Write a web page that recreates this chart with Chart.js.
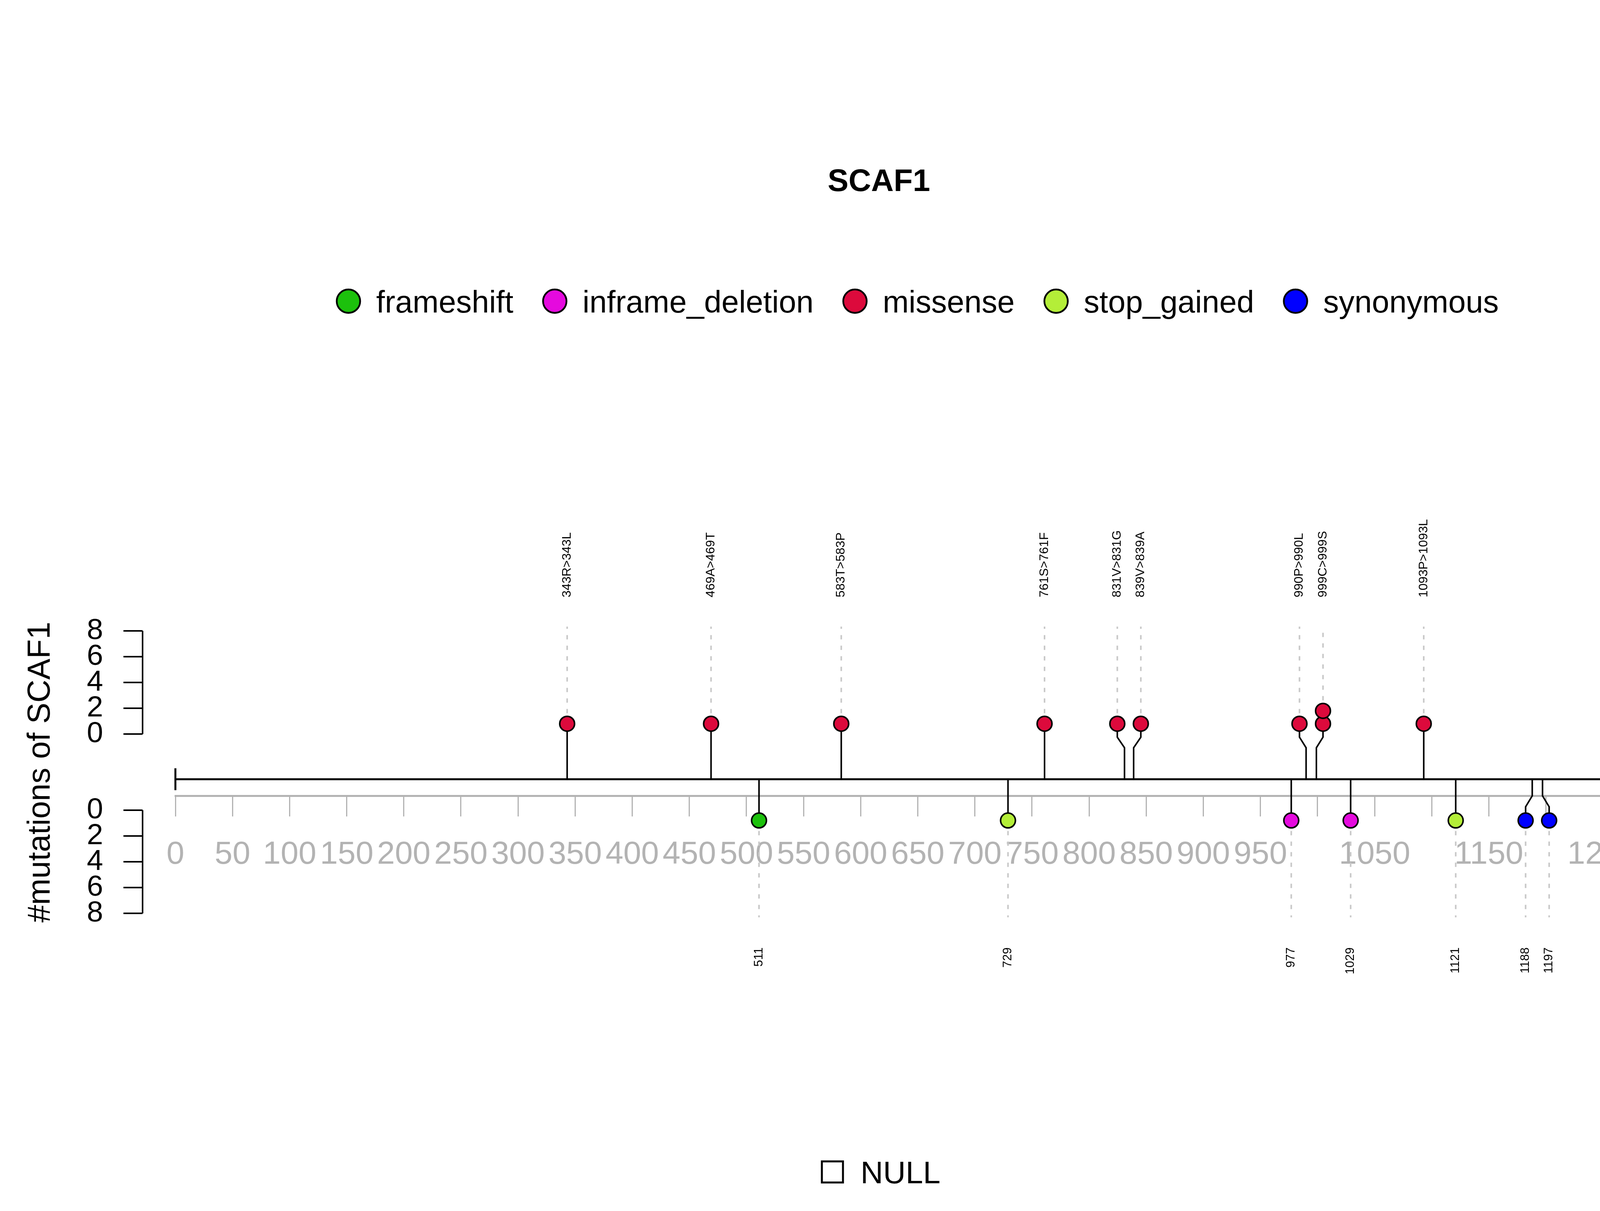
<!DOCTYPE html>
<html>
<head>
<meta charset="utf-8">
<script src="https://cdn.jsdelivr.net/npm/chart.js@4.4.0/dist/chart.umd.min.js"></script>
<style>
  html, body { margin: 0; padding: 0; background: #ffffff; overflow: hidden; }
  #lolli { display: block; width: 100vw; height: 100vh; }
</style>
</head>
<body>
<canvas id="lolli" width="4500" height="3100"></canvas>
<script>
// gene / protein
var geneName = 'SCAF1';
var proteinLength = 1300;

// ruler: a tick every 50 aa, blank labels are the ones dropped for overlap
var rulerStep = 50;
var rulerLabels = ['0', '50', '100', '150', '200', '250', '300', '350', '400', '450',
  '500', '550', '600', '650', '700', '750', '800', '850', '900', '950',
  '', '1050', '', '1150', '', '1250', ''];

// mutations above the backbone
var upperPos = [343, 469, 583, 761, 831, 839, 990, 999, 1093, 1273];
var upperCount = [1, 1, 1, 1, 1, 1, 1, 2, 1, 1];
var upperType = ['missense', 'missense', 'missense', 'missense', 'missense',
  'missense', 'missense', 'missense', 'missense', 'missense'];
var upperLabel = ['343R>343L', '469A>469T', '583T>583P', '761S>761F', '831V>831G',
  '839V>839A', '990P>990L', '999C>999S', '1093P>1093L', '1273R>1273C'];

// mutations below the backbone
var lowerPos = [511, 729, 977, 1029, 1121, 1188, 1197];
var lowerCount = [1, 1, 1, 1, 1, 1, 1];
var lowerType = ['frameshift', 'stop_gained', 'inframe_deletion', 'inframe_deletion',
  'stop_gained', 'synonymous', 'synonymous'];
var lowerLabel = ['511', '729', '977', '1029', '1121', '1188', '1197'];

// variant classes
var typeNames = ['frameshift', 'inframe_deletion', 'missense', 'stop_gained', 'synonymous'];
var typeColors = ['#1CC10C', '#E50ADE', '#DC0A3C', '#B4EE38', '#0000FF'];

// count axes
var countTicks = [0, 2, 4, 6, 8];
var featureLegend = ['NULL'];

// vertical layout, in track units (1 unit = 1 stacked marker)
var UP0 = 3.5;       // zero of the upper count axis
var LOW0 = -2.4;     // zero of the lower count axis
var COUNT_MAX = 8;
var MIN_GAP = 20.6;  // markers closer than this (aa) get pushed apart
var FONT = '"Liberation Sans", Arial, Helvetica, sans-serif';

// push neighbouring markers apart, keep clusters centred
function spread(pos) {
  var out = pos.slice();
  var i = 0;
  while (i < pos.length) {
    var j = i;
    while (j + 1 < pos.length && pos[j + 1] - pos[j] < MIN_GAP) j++;
    if (j > i) {
      var mid = 0;
      for (var k = i; k <= j; k++) mid += pos[k];
      mid /= (j - i + 1);
      for (var k2 = i; k2 <= j; k2++) out[k2] = mid + (k2 - i - (j - i) / 2) * MIN_GAP;
    }
    i = j + 1;
  }
  return out;
}

var upperX = spread(upperPos);
var lowerX = spread(lowerPos);

function lineSet(points, color, width, order, dash) {
  return {
    type: 'scatter',
    data: points,
    showLine: true,
    borderColor: color,
    borderWidth: width,
    borderDash: dash || [],
    pointRadius: 0,
    tension: 0,
    clip: false,
    order: order
  };
}

function buildDatasets() {
  var sets = [];

  // markers, one dataset per class
  typeNames.forEach(function (t, ti) {
    var pts = [];
    upperPos.forEach(function (p, i) {
      if (upperType[i] !== t) return;
      for (var k = 1; k <= upperCount[i]; k++) pts.push({ x: upperX[i], y: UP0 + k - 0.2 });
    });
    lowerPos.forEach(function (p, i) {
      if (lowerType[i] !== t) return;
      for (var k = 1; k <= lowerCount[i]; k++) pts.push({ x: lowerX[i], y: LOW0 - k + 0.2 });
    });
    sets.push({
      label: t,
      type: 'scatter',
      data: pts,
      pointRadius: 19,
      pointBackgroundColor: typeColors[ti],
      pointBorderColor: '#000000',
      pointBorderWidth: 4,
      clip: false,
      order: 0
    });
  });

  // stems and dashed guides
  upperPos.forEach(function (p, i) {
    sets.push(lineSet([
      { x: p, y: 0 }, { x: p, y: UP0 - 1.06 },
      { x: upperX[i], y: UP0 - 0.24 }, { x: upperX[i], y: UP0 + 0.8 }
    ], '#000000', 4, 1));
    sets.push(lineSet([
      { x: upperX[i], y: UP0 + upperCount[i] - 0.2 }, { x: upperX[i], y: UP0 + COUNT_MAX + 0.33 }
    ], '#C8C8C8', 4, 2, [11, 16]));
  });
  lowerPos.forEach(function (p, i) {
    sets.push(lineSet([
      { x: p, y: 0 }, { x: p, y: LOW0 + 1.11 },
      { x: lowerX[i], y: LOW0 + 0.26 }, { x: lowerX[i], y: LOW0 - 0.8 }
    ], '#000000', 4, 1));
    sets.push(lineSet([
      { x: lowerX[i], y: LOW0 - lowerCount[i] + 0.2 }, { x: lowerX[i], y: LOW0 - COUNT_MAX - 0.31 }
    ], '#C8C8C8', 4, 2, [11, 16]));
  });

  // backbone and its start cap
  sets.push(lineSet([{ x: 0, y: 0 }, { x: proteinLength, y: 0 }], '#000000', 5, 3));
  sets.push(lineSet([{ x: 0, y: -0.85 }, { x: 0, y: 0.85 }], '#000000', 5, 3));
  return sets;
}

// title, legends, count axes and variant labels
var decorPlugin = {
  id: 'decor',
  beforeDraw: function (chart) {
    var ctx = chart.ctx;
    ctx.save();
    ctx.fillStyle = '#ffffff';
    ctx.fillRect(0, 0, chart.width, chart.height);
    ctx.restore();
  },
  afterDraw: function (chart) {
    var ctx = chart.ctx;
    var xs = chart.scales.x;
    var ys = chart.scales.y;
    ctx.save();
    ctx.fillStyle = '#000000';
    ctx.strokeStyle = '#000000';

    // title
    ctx.font = 'bold 80px ' + FONT;
    ctx.textAlign = 'center';
    ctx.textBaseline = 'alphabetic';
    ctx.fillText(geneName, chart.width / 2, 489);

    // class legend
    ctx.font = '80px ' + FONT;
    ctx.textAlign = 'left';
    var cx = 862;
    typeNames.forEach(function (t, i) {
      ctx.beginPath();
      ctx.arc(cx + 30, 771, 30, 0, Math.PI * 2);
      ctx.fillStyle = typeColors[i];
      ctx.fill();
      ctx.lineWidth = 4.5;
      ctx.stroke();
      ctx.fillStyle = '#000000';
      ctx.fillText(t, cx + 101, 800);
      cx += 101 + ctx.measureText(t).width + 76;
    });

    // feature legend
    ctx.lineWidth = 5;
    ctx.strokeRect(2104, 2973, 54, 54);
    ctx.fillText(featureLegend[0], 2203, 3029);

    // y title
    ctx.save();
    ctx.translate(127, (ys.getPixelForValue(UP0 + COUNT_MAX) + ys.getPixelForValue(LOW0 - COUNT_MAX)) / 2);
    ctx.rotate(-Math.PI / 2);
    ctx.font = '81px ' + FONT;
    ctx.textAlign = 'center';
    ctx.fillText('#mutations of ' + geneName, 0, 0);
    ctx.restore();

    // count axes, upper one counts up, lower one counts down
    var spine = xs.getPixelForValue(0) - 84;
    ctx.lineWidth = 4;
    ctx.font = '75px ' + FONT;
    ctx.textAlign = 'right';
    ctx.textBaseline = 'middle';
    [[UP0, 1], [LOW0, -1]].forEach(function (ax) {
      ctx.beginPath();
      ctx.moveTo(spine, ys.getPixelForValue(ax[0]));
      ctx.lineTo(spine, ys.getPixelForValue(ax[0] + ax[1] * COUNT_MAX));
      ctx.stroke();
      countTicks.forEach(function (v) {
        var py = ys.getPixelForValue(ax[0] + ax[1] * v);
        ctx.beginPath();
        ctx.moveTo(spine, py);
        ctx.lineTo(spine - 49, py);
        ctx.stroke();
        ctx.fillText(String(v), spine - 101, py);
      });
    });

    // variant labels
    ctx.font = '32px ' + FONT;
    upperLabel.forEach(function (lab, i) {
      ctx.save();
      ctx.translate(xs.getPixelForValue(upperX[i]), ys.getPixelForValue(14.1));
      ctx.rotate(-Math.PI / 2);
      ctx.textAlign = 'left';
      ctx.fillText(lab, 0, 0);
      ctx.restore();
    });
    ctx.font = '31px ' + FONT;
    lowerLabel.forEach(function (lab, i) {
      ctx.save();
      ctx.translate(xs.getPixelForValue(lowerX[i]), ys.getPixelForValue(-13.04));
      ctx.rotate(-Math.PI / 2);
      ctx.textAlign = 'right';
      ctx.fillText(lab, 0, 0);
      ctx.restore();
    });
    ctx.restore();
  }
};

var chart = new Chart(document.getElementById('lolli').getContext('2d'), {
  type: 'scatter',
  data: { datasets: buildDatasets() },
  options: {
    responsive: false,
    devicePixelRatio: 1,
    animation: false,
    events: [],
    layout: { padding: { left: 449, right: 250, top: 1615, bottom: 762 } },
    plugins: {
      legend: { display: false },
      title: { display: false },
      tooltip: { enabled: false }
    },
    scales: {
      x: {
        type: 'linear',
        min: 0,
        max: proteinLength,
        position: { y: -1.31 },
        border: { display: true, color: '#B3B3B3', width: 5 },
        grid: { drawOnChartArea: false, drawTicks: true, tickLength: 50, color: '#B3B3B3', lineWidth: 3 },
        ticks: {
          stepSize: rulerStep,
          autoSkip: false,
          maxRotation: 0,
          padding: 51,
          color: '#B3B3B3',
          font: { family: FONT, size: 82 },
          callback: function (v, i) { return rulerLabels[i]; }
        }
      },
      y: {
        type: 'linear',
        display: false,
        min: LOW0 - COUNT_MAX,
        max: UP0 + COUNT_MAX
      }
    }
  },
  plugins: [decorPlugin]
});
</script>
</body>
</html>
